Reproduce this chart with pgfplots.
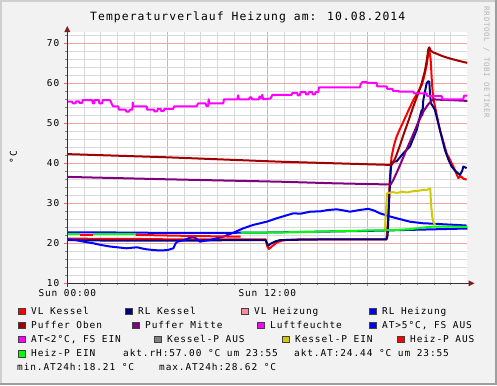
\documentclass[border=0pt]{standalone}
\usepackage{pgfplots}
\pgfplotsset{compat=1.18}
\usepackage{fontspec}
\setmainfont{DejaVu Sans Mono}[LetterSpace=9.5]
\usetikzlibrary{arrows.meta,backgrounds}
\definecolor{bgcol}{HTML}{F2F2F2}
\definecolor{shadea}{HTML}{CFCFCF}
\definecolor{shadeb}{HTML}{9E9E9E}
\definecolor{gridmin}{HTML}{DADADA}
\definecolor{gridmaj}{HTML}{F0A6A6}
\definecolor{axiscol}{HTML}{3A2E2E}
\definecolor{arrowcol}{HTML}{801F1F}
\definecolor{wmcol}{HTML}{B4B4B4}
\definecolor{sqb}{HTML}{404040}
\definecolor{cVLK}{HTML}{FF0000}
\definecolor{cRLK}{HTML}{000080}
\definecolor{cVLH}{HTML}{FF8C9C}
\definecolor{cRLH}{HTML}{0000FF}
\definecolor{cPO}{HTML}{A00000}
\definecolor{cPM}{HTML}{800080}
\definecolor{cLF}{HTML}{FF00FF}
\definecolor{cAT}{HTML}{0000FF}
\definecolor{cKPA}{HTML}{808080}
\definecolor{cKPE}{HTML}{CCCC00}
\definecolor{cHPA}{HTML}{FF0000}
\definecolor{cHPE}{HTML}{00FF00}
\newcommand{\lf}{\fontsize{9.5}{11}\selectfont}
\newcommand{\sq}[1]{{\setlength{\fboxsep}{0pt}\setlength{\fboxrule}{0.6bp}\fcolorbox{sqb}{#1}{\rule{0pt}{6.2bp}\rule{6.2bp}{0pt}}}}
\newcommand{\leg}[4]{\node[anchor=base west,inner sep=0] at (#1-13,#2) {\sq{#3}};
  \node[anchor=base west,inner sep=0] at (#1,#2) {\lf #4};}
\begin{document}
\begin{tikzpicture}[x=1bp,y=1bp]
\begin{axis}[
  scale only axis, width=400bp, height=251.2bp,
  xmin=0, xmax=24, ymin=10, ymax=72.8,
  axis background/.style={fill=white},
  axis x line*=bottom, axis y line*=left,
  axis line style={axiscol, line width=1bp},
  xtick={0,6,12,18}, xticklabels={Sun 00:00,,Sun 12:00,},
  minor xtick={1,2,3,4,5,7,8,9,10,11,13,14,15,16,17,19,20,21,22,23},
  ytick={10,20,30,40,50,60,70},
  minor ytick={12,14,16,18,22,24,26,28,32,34,36,38,42,44,46,48,52,54,56,58,62,64,66,68,72},
  grid=both,
  major grid style={gridmaj, line width=0.8bp},
  minor grid style={gridmin, line width=0.8bp},
  tick align=outside,
  major tick length=3bp, minor tick length=2bp,
  major tick style={gridmaj!60!red, line width=0.8bp},
  minor tick style={gray, line width=0.8bp},
  ticklabel style={font=\lf, text=black},
  yticklabel style={xshift=-1.5bp},
  /pgf/number format/assume math mode=true,
  every axis plot/.append style={line width=2bp, line join=round},
]
% VL Kessel
\addplot[cVLK] coordinates {(0,21.2)(2,21.1)(4,21.1)(6,21.0)(8,21.0)(10,21.0)(11.9,21.0)(12.0,19.2)(12.1,18.6)(12.3,19.3)(12.6,20.3)(13.0,20.8)(14,21.0)(16,21.0)(18,21.0)(19.15,21.0)(19.25,26)(19.35,36)(19.45,41.5)(19.6,44.5)(19.76,46.7)(19.95,48.5)(20.16,50.4)(20.5,53.5)(20.76,55.8)(21.0,57.5)(21.26,59.5)(21.4,61.5)(21.56,64.5)(21.66,67.5)(21.72,68.4)(21.8,66)(21.88,60)(21.95,56.5)(22.06,54.2)(22.36,48.3)(22.76,42.5)(23.16,39.2)(23.46,36.3)(23.6,36.8)(23.75,36.2)(23.96,35.9)};
% RL Kessel
\addplot[cRLK] coordinates {(0,20.8)(2,20.7)(4,20.7)(6,20.7)(8,20.7)(10,20.8)(11.9,20.8)(12.0,19.8)(12.06,19.4)(12.2,19.9)(12.5,20.5)(12.76,20.8)(14,20.9)(16,21.0)(19.15,21.0)(19.22,22)(19.3,30)(19.4,38)(19.46,40.3)(19.76,40.5)(20.16,42.5)(20.56,44.2)(20.96,48.3)(21.15,51.5)(21.26,53.3)(21.3,52)(21.36,55.8)(21.56,60)(21.65,60.5)(21.72,60.4)(21.76,57.5)(21.82,55)(21.9,54.5)(22.06,53.3)(22.36,48.3)(22.66,43.3)(22.86,41)(23.06,39.2)(23.3,38)(23.56,37.1)(23.7,38.2)(23.76,39.2)(23.96,38.8)};
% RL Heizung
\addplot[cRLH] coordinates {(0,22.75)(3,22.7)(6,22.6)(9,22.6)(12,22.7)(15,22.9)(18,23.1)(20,23.3)(22,23.5)(24,23.7)};
% Puffer Oben
\addplot[cPO] coordinates {(0,42.3)(6,41.5)(12.76,40.4)(19.36,39.6)(19.5,39.8)(19.7,41.5)(19.96,44.5)(20.16,47)(20.5,51)(20.76,54.2)(21.06,57.5)(21.26,60)(21.45,63)(21.56,65.5)(21.66,68.5)(21.72,69.0)(21.8,68.2)(21.96,67.7)(22.16,67.4)(22.5,66.8)(22.96,66.2)(23.5,65.6)(24,65.1)};
% Puffer Mitte
\addplot[cPM] coordinates {(0,36.6)(6,36.0)(12.76,35.4)(16,35.0)(19.4,34.7)(19.56,35.8)(19.96,39.5)(20.36,43.5)(20.76,47.3)(21.06,50.3)(21.36,52.9)(21.66,54.8)(21.96,56.0)(22.3,55.9)(23,55.8)(24,55.6)};
% Luftfeuchte
\addplot[cLF] coordinates {(0,55.4)(0.3,55.4)(0.32,55.0)(0.5,55.0)(0.52,55.5)(0.7,55.5)(0.72,55.1)(0.9,55.1)(0.92,55.8)(1.5,55.8)(1.52,55.0)(1.62,55.0)(1.64,55.8)(1.9,55.8)(1.92,55.0)(2.1,55.0)(2.12,55.8)(2.56,55.8)(2.7,54.6)(2.76,54.2)(3.06,54.2)(3.1,53.4)(3.5,53.4)(3.55,52.9)(3.7,52.9)(3.75,53.4)(3.9,53.4)(3.93,55.2)(3.96,54.2)(4.76,54.2)(4.8,53.4)(5.2,53.4)(5.22,53.0)(5.4,53.0)(5.42,53.6)(5.6,53.6)(5.62,53.1)(5.8,53.1)(5.82,53.6)(6.36,53.6)(6.4,54.2)(7.76,54.2)(7.8,54.6)(7.86,55.0)(8.3,55.0)(8.35,54.3)(8.45,54.3)(8.48,56.0)(8.52,55.0)(9.36,55.0)(9.4,56.0)(10.2,56.0)(10.25,57.0)(10.3,56.0)(10.9,56.0)(10.95,56.5)(11.05,56.5)(11.08,56.0)(11.5,56.0)(11.53,56.7)(11.6,56.2)(11.7,57.1)(11.75,56.0)(12.2,56.2)(12.3,57.1)(13.46,57.1)(13.5,57.6)(13.8,57.6)(13.82,57.0)(13.95,57.0)(14.0,57.8)(14.3,57.8)(14.32,57.2)(14.45,57.2)(14.5,57.8)(14.7,57.8)(14.72,57.2)(14.85,57.2)(14.9,57.8)(15.06,57.8)(15.1,59.0)(17.56,59.0)(17.6,59.8)(17.7,60.3)(17.96,60.3)(18.0,60.1)(18.56,60.1)(18.6,59.2)(19.16,59.2)(19.2,58.6)(19.5,58.6)(19.55,58.1)(19.86,58.1)(19.9,57.9)(20.76,57.9)(20.8,57.5)(21.56,57.5)(21.6,56.8)(22.46,56.8)(22.5,56.0)(23.76,56.0)(23.8,56.9)(24,56.9)};
% AT (AT>5 C, FS AUS)
\addplot[cAT] coordinates {(0,21.0)(0.5,20.8)(1.0,20.4)(1.56,20.0)(2.0,19.6)(2.56,19.2)(3.0,19.0)(3.56,18.75)(3.9,18.9)(4.2,19.0)(4.5,18.7)(4.76,18.5)(5.2,18.3)(5.56,18.21)(6.0,18.3)(6.36,18.75)(6.5,20.0)(6.6,20.4)(7.0,20.8)(7.3,21.3)(7.56,21.65)(7.8,21.0)(7.96,20.4)(8.2,20.6)(8.56,20.8)(9.0,21.3)(9.36,21.65)(9.96,22.65)(10.56,23.75)(11.16,24.6)(11.96,25.4)(12.56,26.25)(13.0,26.8)(13.56,27.5)(14.0,27.4)(14.56,27.9)(15.2,28.0)(15.6,28.3)(16.16,28.5)(16.6,28.2)(16.96,27.9)(17.5,28.3)(18.06,28.62)(18.4,28.2)(18.76,27.5)(19.36,26.7)(20.0,26.0)(20.56,25.4)(21.36,25.0)(22.0,24.9)(22.56,24.75)(23.3,24.6)(23.96,24.44)};
% Kessel-P EIN
\addplot[cKPE] coordinates {(19.05,23.3)(19.12,28)(19.18,32.5)(19.5,32.8)(19.8,32.6)(20.1,32.9)(20.4,32.7)(20.7,33.0)(21.0,33.1)(21.3,33.3)(21.6,33.4)(21.78,33.7)(21.82,30)(21.9,26.5)(21.96,25.4)(22.06,24.6)};
% Heiz-P AUS
\addplot[cHPA] coordinates {(0.76,22.2)(1.56,22.2)};
\addplot[cHPA] coordinates {(4.1,22.1)(6,21.95)(8,21.8)(10.4,21.65)};
% Heiz-P EIN
\addplot[cHPE] coordinates {(0,22.4)(0.76,22.4)};
\addplot[cHPE] coordinates {(1.56,22.4)(4.1,22.4)};
\addplot[cHPE] coordinates {(10.4,22.65)(12,22.7)(14,22.8)(16,23.0)(18,23.2)(19.5,23.3)(20.5,23.5)(21.5,24.0)(22.0,24.2)(23,24.2)(24,24.1)};
\coordinate (O) at (axis cs:0,10);
\end{axis}
\begin{scope}[shift={(O)}]
\begin{scope}[shift={(-67.3,-101.7)}]
\begin{scope}[on background layer]
\fill[bgcol] (0,0) rectangle (497,385);
\fill[shadea] (0,383) rectangle (497,385);
\fill[shadea] (0,0) rectangle (2,385);
\fill[shadeb] (0,0) rectangle (497,2);
\fill[shadeb] (495,0) rectangle (497,385);
\end{scope}
% axis extensions and arrows
\draw[axiscol,line width=1bp] (67.3,98.5) -- (67.3,355);
\draw[axiscol,line width=1bp] (67.3,101.7) -- (470,101.7);
\fill[arrowcol] (474.5,101.7) -- (468.5,98.7) -- (468.5,104.7) -- cycle;
\fill[arrowcol] (67.3,359) -- (64.3,353) -- (70.3,353) -- cycle;
% title, unit, watermark
\node[anchor=base,inner sep=0] at (247.7,364.5) {\fontsize{11.4}{13}\selectfont Temperaturverlauf Heizung am: 10.08.2014};
\node[rotate=90,inner sep=0] at (13.5,228) {\lf °C};
\node[rotate=-90,inner sep=0,text=wmcol] at (486.5,322.5) {\fontsize{7.5}{9}\selectfont RRDTOOL / TOBI OETIKER};
% legend
\leg{31}{70.7}{cVLK}{VL Kessel}
\leg{138}{70.7}{cRLK}{RL Kessel}
\leg{254}{70.7}{cVLH}{VL Heizung}
\leg{382}{70.7}{cRLH}{RL Heizung}
\leg{31}{56.7}{cPO}{Puffer Oben}
\leg{145}{56.7}{cPM}{Puffer Mitte}
\leg{270}{56.7}{cLF}{Luftfeuchte}
\leg{382}{56.7}{cAT}{AT>5°C, FS AUS}
\leg{31}{42.7}{cLF}{AT<2°C, FS EIN}
\leg{167}{42.7}{cKPA}{Kessel-P AUS}
\leg{295}{42.7}{cKPE}{Kessel-P EIN}
\leg{410}{42.7}{cHPA}{Heiz-P AUS}
\leg{31}{28.4}{cHPE}{Heiz-P EIN}
\node[anchor=base west,inner sep=0] at (123,28.4) {\lf akt.rH:57.00 °C um 23:55};
\node[anchor=base west,inner sep=0] at (294,28.4) {\lf akt.AT:24.44 °C um 23:55};
\node[anchor=base west,inner sep=0] at (17,14.7) {\lf min.AT24h:18.21 °C};
\node[anchor=base west,inner sep=0] at (159,14.7) {\lf max.AT24h:28.62 °C};
\pgfresetboundingbox
\useasboundingbox (0,0) rectangle (497,385);
\end{scope}
\end{scope}
\end{tikzpicture}
\end{document}
